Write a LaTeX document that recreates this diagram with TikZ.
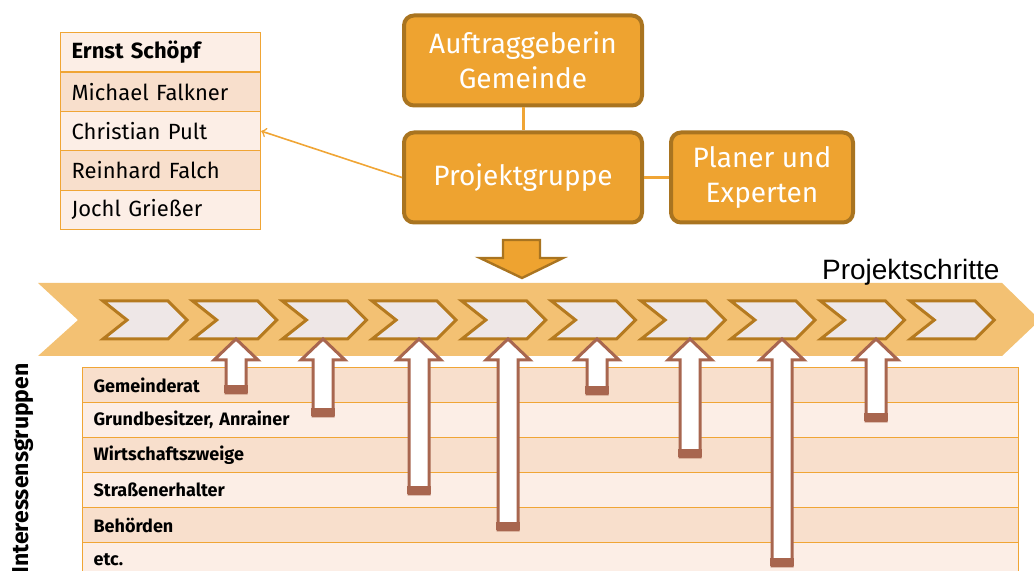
\documentclass[tikz,border=0pt]{standalone}
\usepackage{fontspec}
\setmainfont{Fira Sans}
\newfontfamily\arialfont{Liberation Sans}
\usepackage{tikz}
\usetikzlibrary{positioning,arrows}

\definecolor{boxfill}{HTML}{EEA330}
\definecolor{boxline}{HTML}{A97420}
\definecolor{gridline}{HTML}{F0A535}
\definecolor{rowdark}{HTML}{F8DFCC}
\definecolor{rowlight}{HTML}{FCEEE6}
\definecolor{bandfill}{HTML}{F3C173}
\definecolor{stepfill}{HTML}{EEE7E7}
\definecolor{stepline}{HTML}{B57A1F}
\definecolor{arrline}{HTML}{A8664F}

\begin{document}
\begin{tikzpicture}[
  x=0.5pt, y=-0.5pt,
  orgbox/.style={rectangle, draw=boxline, fill=boxfill, line width=2pt, rounded corners=5pt, text=white, align=center, font=\fontsize{14}{17.5}\selectfont},
  namerow/.style={rectangle, draw=gridline, line width=0.6pt, anchor=north west, minimum width=100pt, minimum height=19.7pt, text width=89pt, inner xsep=5.5pt, align=left, font=\fontsize{11}{13}\selectfont},
  grouprow/.style={rectangle, draw=gridline, line width=0.6pt, anchor=north west, minimum width=468pt, minimum height=17.5pt, text width=457pt, inner xsep=5.5pt, align=left, font=\bfseries\fontsize{9}{10.5}\selectfont},
  link/.style={draw=gridline, line width=0.8pt},
  stepbox/.style={fill=stepfill, draw=stepline, line width=1.5pt},
  uparr/.style={fill=white, draw=arrline, line width=1.5pt}
]
\clip (0,0) rectangle (1034,571);
\useasboundingbox (0,0) rectangle (1034,571);

% Projektschritte band
\fill[bandfill] (38,283) -- (1002,283) -- (1040,320) -- (1002,356) -- (38,356) -- (78,320) -- cycle;
\foreach \i in {0,...,9}
  \draw[stepbox] ({103+89.7*\i},301) -- ++(65,0) -- ++(19,19) -- ++(-19,19) -- ++(-65,0) -- ++(24,-19) -- cycle;
\node[anchor=base west, font=\arialfont\fontsize{14}{16}\selectfont] (steps) at (815,280) {Projektschritte};

% Interessensgruppen
\node[grouprow, fill=rowdark] (g1) at (82,367) {Gemeinderat};
\node[grouprow, fill=rowlight] (g2) at (82,402) {Grundbesitzer, Anrainer};
\node[grouprow, fill=rowdark] (g3) at (82,437) {Wirtschaftszweige};
\node[grouprow, fill=rowlight] (g4) at (82,472) {Straßenerhalter};
\node[grouprow, fill=rowdark] (g5) at (82,507) {Behörden};
\node[grouprow, fill=rowlight] (g6) at (82,542) {etc.};
\node[rotate=90, anchor=east, inner sep=0pt, font=\bfseries\fontsize{11.5}{13}\selectfont] (groups) at (23,363) {Interessensgruppen};

% Beteiligung
\foreach \x/\yb in {236/393, 323/416, 419/494, 508/530, 597/394, 690/457, 782/566, 876/421} {
  \draw[uparr] (\x,339) -- (\x+22,360) -- (\x+10,360) -- (\x+10,\yb) -- (\x-10,\yb) -- (\x-10,360) -- (\x-22,360) -- cycle;
  \fill[arrline] (\x-12,\yb-8) rectangle (\x+12,\yb);
}

% Projektgruppe Mitglieder
\node[namerow, fill=rowlight, font=\bfseries\fontsize{11}{13}\selectfont] (m1) at (60,32) {Ernst Schöpf};
\node[namerow, fill=rowdark] (m2) at (60,71.4) {Michael Falkner};
\node[namerow, fill=rowlight] (m3) at (60,110.8) {Christian Pult};
\node[namerow, fill=rowdark] (m4) at (60,150.2) {Reinhard Falch};
\node[namerow, fill=rowlight] (m5) at (60,189.6) {Jochl Grießer};

% Organisation
\node[orgbox, minimum width=119pt, minimum height=45pt] (pg) at (523,177.5) {Projektgruppe};
\node[orgbox, minimum width=119pt, minimum height=45pt, above=11.5pt of pg] (ag) {Auftraggeberin\\Gemeinde};
\node[orgbox, minimum width=91pt, minimum height=45pt, right=12.5pt of pg] (pe) {Planer und\\Experten};

\draw[link, line width=1.5pt] (ag) -- (pg);
\draw[link, line width=1.5pt] (pg) -- (pe);
\draw[link, ->] (pg.west) -- (m3.east);

% Pfeil zu den Projektschritten
\draw[fill=boxfill, draw=boxline, line width=1.2pt] (503,240) -- (540,240) -- (540,258) -- (563,258) -- (522,278) -- (480,258) -- (503,258) -- cycle;

\end{tikzpicture}
\end{document}
